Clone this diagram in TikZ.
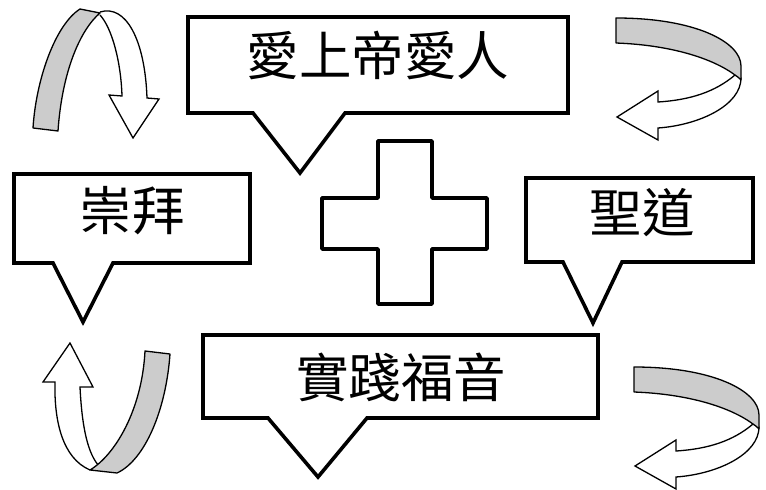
\documentclass[tikz,border=0pt]{standalone}
\usepackage{fontspec}
\newfontfamily\cjk{Noto Sans CJK TC}
\begin{document}
\begin{tikzpicture}[x=1pt,y=-1pt,
  callout/.style={draw=black,line width=3.6pt,fill=white,line join=miter},
  crossshape/.style={draw=black,line width=3.8pt,fill=white,line join=round},
  band/.style={draw=black,line width=1.3pt,fill=black!20,line join=round},
  shaft/.style={draw=black,line width=1.3pt,fill=white,line join=miter},
  label/.style={font=\cjk\fontsize{52.5}{52.5}\selectfont,inner sep=0pt}]
\useasboundingbox (0,0) rectangle (766,490);
% callouts
\draw[callout] (188,17) -- (568,17) -- (568,113) -- (345,113) -- (300,173) -- (253,113) -- (188,113) -- cycle;
\draw[callout] (14,174) -- (250,174) -- (250,263) -- (113,263) -- (83,322) -- (53,263) -- (14,263) -- cycle;
\draw[callout] (526,178) -- (753,178) -- (753,262) -- (622,262) -- (593,323) -- (563,262) -- (526,262) -- cycle;
\draw[callout] (203,335) -- (598,335) -- (598,418) -- (367,418) -- (318,477) -- (268,418) -- (203,418) -- cycle;
\node[label] (love) at (378,55) {愛上帝愛人};
\node[label] (worship) at (132,211) {崇拜};
\node[label] (word) at (642,213) {聖道};
\node[label] (gospel) at (401,377) {實踐福音};
% cross
\draw[crossshape] (378,141) -- (432,141) -- (432,198) -- (487,198) -- (487,249) -- (432,249) -- (432,304) -- (378,304) -- (378,249) -- (322,249) -- (322,198) -- (378,198) -- cycle;
% top-left arrow
\draw[shaft] (100,12) .. controls (126,4) and (145,40) .. (147,98) -- (159,99) -- (133,138) -- (109,95) -- (122,96) .. controls (121,62) and (112,28) .. (100,15);
\draw[band] (33,128) .. controls (36,80) and (55,25) .. (80,9) -- (100,13) .. controls (80,30) and (62,72) .. (58,131) -- cycle;
% bottom-left arrow
\draw[shaft] (90,470) .. controls (62,458) and (54,420) .. (55,382) -- (43,382) -- (70,343) -- (93,387) -- (80,387) .. controls (82,428) and (88,455) .. (100,467);
\draw[band] (145,351) -- (170,354) .. controls (166,410) and (145,460) .. (117,473) -- (90,470) .. controls (115,455) and (142,410) .. (145,351) -- cycle;
% top-right arrow
\begin{scope}
\draw[shaft] (735,75) .. controls (715,92) and (690,100) .. (658,102) -- (658,91) -- (617,117) -- (658,140) -- (658,128) .. controls (700,125) and (741,105) .. (741,78) -- cycle;
\draw[band] (616,18) .. controls (695,18) and (741,42) .. (741,66) -- (741,80) .. controls (739,78) and (737,76) .. (735,75) .. controls (712,58) and (670,45) .. (616,43) -- cycle;
\end{scope}
% bottom-right arrow
\begin{scope}[shift={(18,349)}]
\draw[shaft] (735,75) .. controls (715,92) and (690,100) .. (658,102) -- (658,91) -- (617,117) -- (658,140) -- (658,128) .. controls (700,125) and (741,105) .. (741,78) -- cycle;
\draw[band] (616,18) .. controls (695,18) and (741,42) .. (741,66) -- (741,80) .. controls (739,78) and (737,76) .. (735,75) .. controls (712,58) and (670,45) .. (616,43) -- cycle;
\end{scope}
\end{tikzpicture}
\end{document}
